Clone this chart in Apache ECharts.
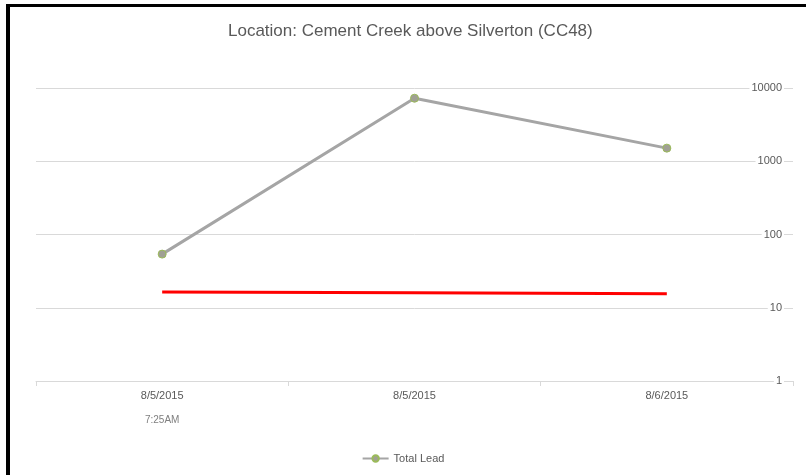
<!DOCTYPE html>
<html>
<head>
<meta charset="utf-8">
<title>Cement Creek above Silverton (CC48)</title>
<script src="https://cdn.jsdelivr.net/npm/echarts@6/dist/echarts.min.js"></script>
<style>
  html, body { margin: 0; padding: 0; background: #fff; }
  #chart { width: 806px; height: 475px; }
</style>
</head>
<body>
<div id="chart"></div>
<script>
// sample times (date + optional time shown on a second line)
const categories = ['8/5/2015 7:25AM', '8/5/2015', '8/6/2015'];
const totalLead = [54, 7250, 1510];
// red reference line, no legend entry
const limitLine = [16.4, 16.0, 15.5];
const yTicks = [1, 10, 100, 1000, 10000];

const chart = echarts.init(document.getElementById('chart'));

const option = {
  backgroundColor: '#fff',
  animation: false,
  title: {
    text: 'Location: Cement Creek above Silverton (CC48)',
    left: 223,
    top: 18,
    textStyle: {
      color: '#595959',
      fontFamily: 'Liberation Sans',
      fontWeight: 'normal',
      fontSize: 17
    }
  },
  legend: {
    data: ['Total Lead'],
    bottom: 6,
    left: 'center',
    itemWidth: 26,
    itemHeight: 8,
    itemGap: 4,
    textStyle: { color: '#595959', fontSize: 11, fontFamily: 'Liberation Sans' }
  },
  grid: { left: 36, right: 13, top: 88, bottom: 94 },
  graphic: [
    { type: 'rect', shape: { x: 6, y: 4, width: 4, height: 471 }, style: { fill: '#000' } },
    { type: 'rect', shape: { x: 6, y: 4, width: 800, height: 3 }, style: { fill: '#000' } }
  ],
  xAxis: {
    type: 'category',
    data: categories,
    boundaryGap: true,
    axisLine: { lineStyle: { color: '#d9d9d9', width: 1 } },
    axisTick: { show: true, length: 5, lineStyle: { color: '#d9d9d9' } },
    axisLabel: {
      margin: 3,
      color: '#595959',
      fontSize: 11,
      fontFamily: 'Liberation Sans',
      lineHeight: 24,
      formatter: function (v) {
        const parts = v.split(' ');
        return parts.length > 1 ? parts[0] + '\n{t|' + parts[1] + '}' : parts[0];
      },
      rich: {
        t: { fontSize: 10, color: '#7f7f7f', lineHeight: 24, fontFamily: 'Liberation Sans' }
      }
    }
  },
  yAxis: {
    type: 'log',
    logBase: 10,
    position: 'right',
    min: yTicks[0],
    max: yTicks[yTicks.length - 1],
    axisLine: { show: false },
    axisTick: { show: false },
    splitLine: { lineStyle: { color: '#d9d9d9', width: 1 } },
    axisLabel: {
      inside: true,
      margin: 9,
      color: '#595959',
      fontSize: 11,
      fontFamily: 'Liberation Sans',
      backgroundColor: '#fff',
      padding: [0, 2],
      formatter: function (v) { return String(Math.round(v)); }
    }
  },
  series: [
    {
      name: 'Total Lead',
      type: 'line',
      data: totalLead,
      symbol: 'circle',
      symbolSize: 8,
      lineStyle: { color: '#a5a5a5', width: 3 },
      itemStyle: { color: '#a0a094', borderColor: '#9bbb59', borderWidth: 1 },
      z: 3
    },
    {
      name: 'Limit',
      type: 'line',
      data: limitLine,
      symbol: 'none',
      lineStyle: { color: '#ff0000', width: 3 },
      z: 2
    }
  ]
};

chart.setOption(option);
</script>
</body>
</html>
